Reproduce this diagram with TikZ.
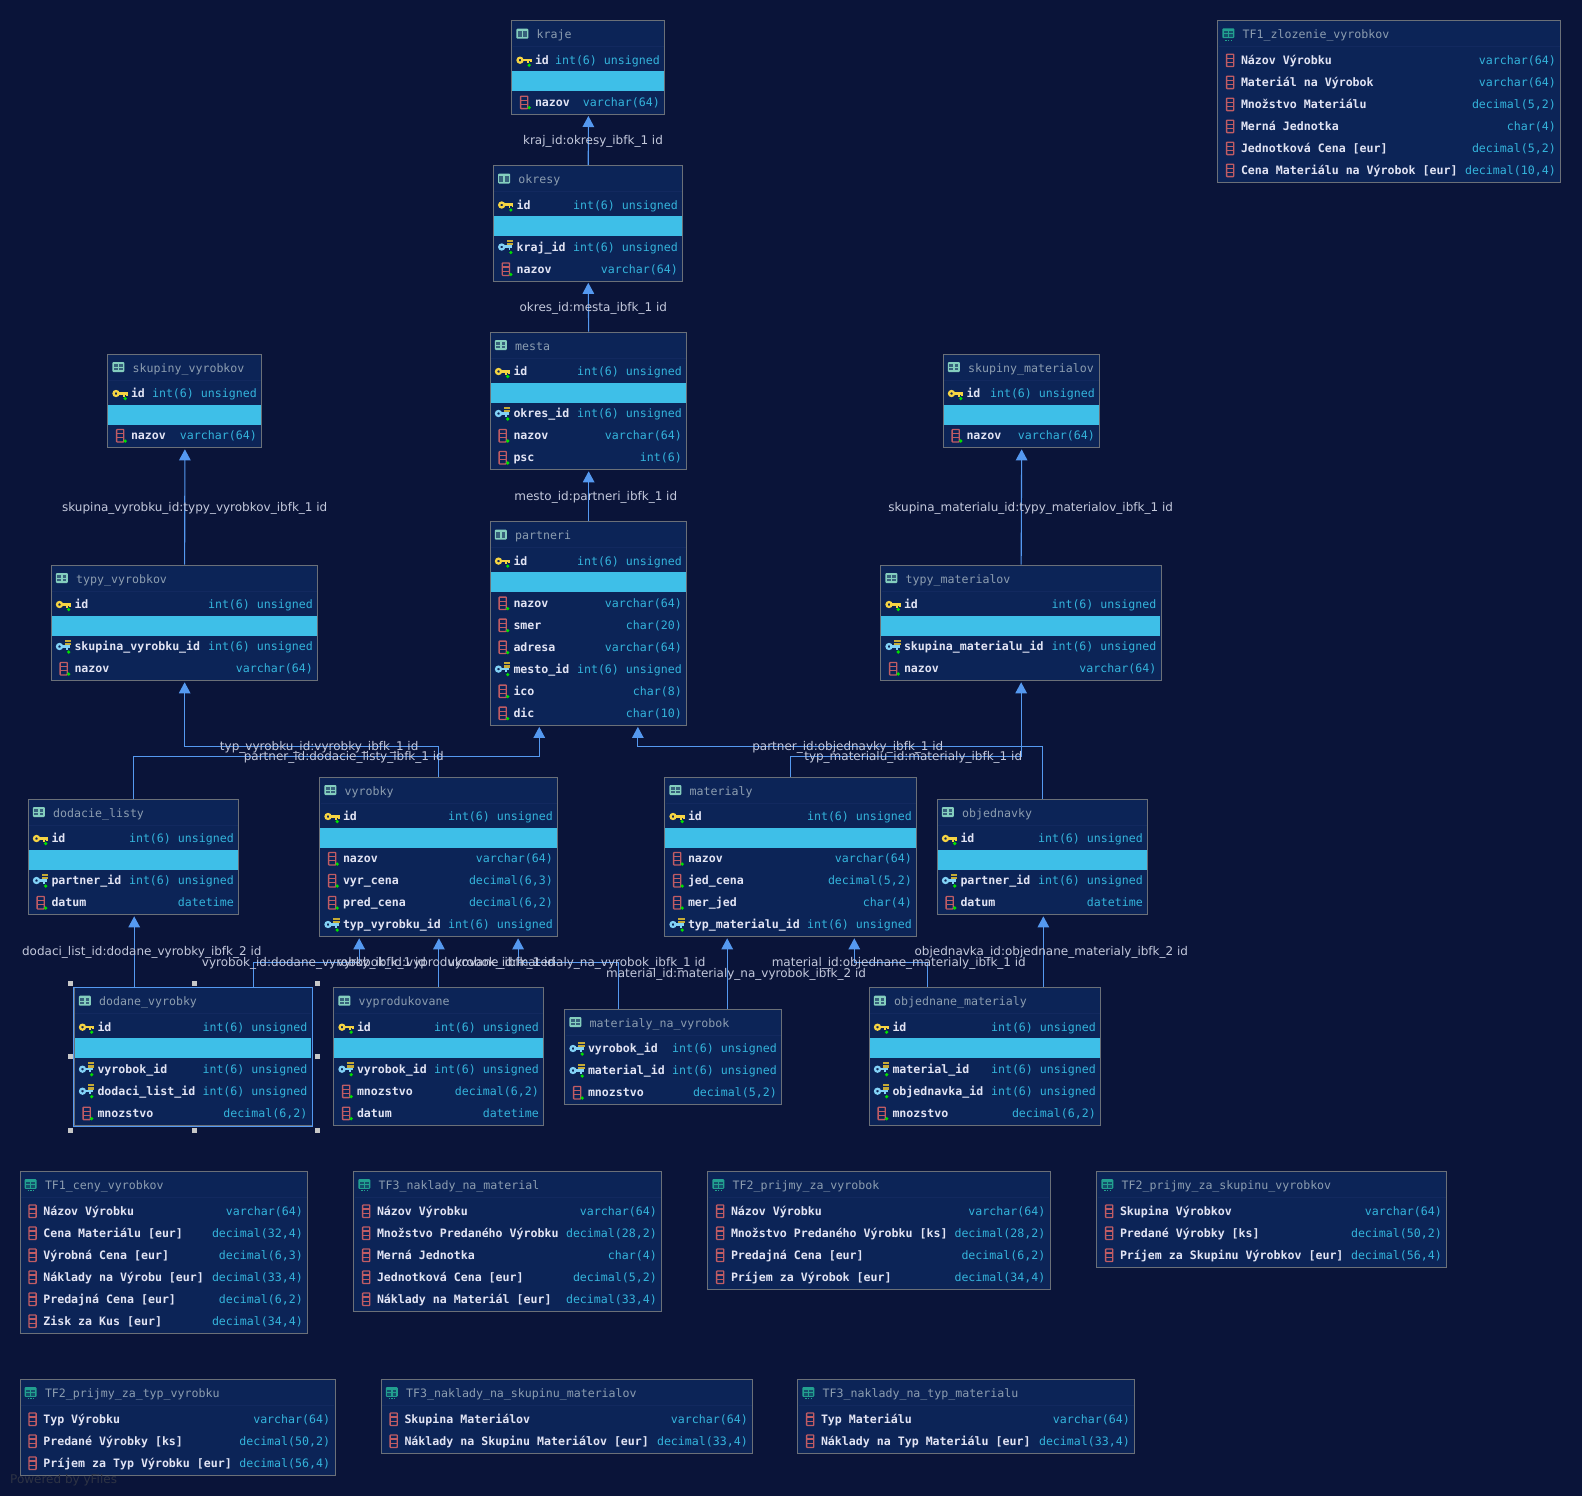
\documentclass[tikz,border=0pt]{standalone}
\usepackage{fontspec}
\setmainfont{DejaVu Sans}
\setmonofont{DejaVu Sans Mono}
\usetikzlibrary{arrows.meta}

\definecolor{bgcol}{HTML}{0A1439}
\definecolor{tblcol}{HTML}{0C2457}
\definecolor{hdrcol}{HTML}{12295F}
\definecolor{edgecol}{HTML}{6B7078}
\definecolor{bandcol}{HTML}{3EBFE8}
\definecolor{typecol}{HTML}{34B4DC}
\definecolor{namecol}{HTML}{E2E4F4}
\definecolor{titlecol}{HTML}{8C9DB0}
\definecolor{linkcol}{HTML}{5599F0}
\definecolor{labelcol}{HTML}{C4C9DC}
\definecolor{pkcol}{HTML}{F6D443}
\definecolor{fkcol}{HTML}{82D2F6}
\definecolor{colcol}{HTML}{C05C64}
\definecolor{dotcol}{HTML}{00E000}
\definecolor{gridcol}{HTML}{84CEBE}
\definecolor{viewcol}{HTML}{22A090}
\definecolor{yfilescol}{HTML}{2E3344}

\def\bandkey{band}
% [title icon]{name}{left}{right}{top}{height}{title}{rows}
\newcommand{\dbtable}[8][tblicon]{%
  \pgfmathsetmacro{\tblw}{#4-#3}
  \node[tbl, minimum width=\tblw pt, minimum height=#6pt] (#2) at (#3-.6,#5-.5) {};
  \draw[hdrline] (#3+.5,#5+26) -- (#4-1.5,#5+26);
  \pic at (#3+10.3,#5+13) {#1};
  \node[hdr] (#2-title) at (#3+24.5,#5+18) {#7};
  \pgfmathparse{#5+39.5}\xdef\rowy{\pgfmathresult}
  \foreach \k/\n/\t [count=\i] in {#8}{
    \ifx\k\bandkey
      \fill[bandcol] (#3,\rowy-11) rectangle (#4-1.2,\rowy+9);
      \pgfmathparse{\rowy+20}\xdef\rowy{\pgfmathresult}
    \else
      \pic at (#3+12.2,\rowy) {\k};
      \node[colname] (#2-n\i) at (#3+22.8,\rowy+4) {\n};
      \node[coltype] (#2-t\i) at (#4-5,\rowy+4) {\t};
      \pgfmathparse{\rowy+22}\xdef\rowy{\pgfmathresult}
    \fi
  }
}

\begin{document}
\begin{tikzpicture}[x=1pt, y=-1pt,
  tbl/.style={draw=edgecol, line width=1pt, fill=tblcol, anchor=north west, inner sep=0pt},
  hdrline/.style={hdrcol, line width=.8pt},
  hdr/.style={anchor=base west, inner sep=0pt, text=titlecol, font=\fontsize{11.6}{14}\selectfont\ttfamily},
  colname/.style={anchor=base west, inner sep=0pt, text=namecol, font=\fontsize{11.6}{14}\selectfont\ttfamily\bfseries},
  coltype/.style={anchor=base east, inner sep=0pt, text=typecol, font=\fontsize{11.6}{14}\selectfont\ttfamily},
  fk/.style={draw=linkcol, line width=1.1pt, shorten >=1pt, -{Triangle[length=11pt,width=11.5pt,fill=linkcol]}},
  lbl/.style={inner sep=0pt, text=labelcol, font=\fontsize{12}{14}\selectfont},
  handle/.style={draw=none, fill=black!22, minimum size=5pt, inner sep=0pt},
  pk/.pic={
    \draw[pkcol, line width=2.2pt] (-4.2,0) circle (2.5pt);
    \draw[pkcol, line width=2.6pt] (-1.5,-.3) -- (7.4,-.3);
    \draw[pkcol, line width=1.8pt] (3.6,0) -- (3.6,3) (6.5,0) -- (6.5,2);
    \fill[dotcol] (5,5) circle (1.8pt);
  },
  fkey/.pic={
    \draw[fkcol, line width=2.2pt] (-4.2,0) circle (2.5pt);
    \draw[fkcol, line width=2.6pt] (-1.5,-.3) -- (6.5,-.3);
    \draw[fkcol, line width=1.8pt] (3.6,0) -- (3.6,3);
    \fill[pkcol!80!black] (1,-7) rectangle (7.4,-1.6);
    \draw[tblcol, line width=.6pt] (1,-4.6) -- (7.4,-4.6);
    \fill[dotcol] (5,5.5) circle (1.8pt);
  },
  vcol/.pic={
    \draw[colcol, line width=1.3pt, rounded corners=.6pt] (-3.6,-6) rectangle (3.6,6.4);
    \draw[colcol, line width=1.2pt] (-3.6,-2) -- (3.6,-2) (-3.6,2.2) -- (3.6,2.2);
  },
  col/.pic={
    \pic {vcol};
    \fill[dotcol] (5,5.5) circle (1.8pt);
  },
  tblicon/.pic={
    \fill[gridcol, rounded corners=1pt] (-6,-5) rectangle (6,5);
    \foreach \cx in {-4.6,.7}
      \foreach \cy in {-2.6,.8}
        \fill[gridcol!35!tblcol] (\cx,\cy) rectangle ++(3.9,2.6);
  },
  viewicon/.pic={
    \fill[viewcol, rounded corners=1pt] (-6,-5.4) rectangle (6,4.4);
    \foreach \cx in {-4.6,.7}
      \foreach \cy in {-3,.4}
        \fill[viewcol!35!tblcol] (\cx,\cy) rectangle ++(3.9,2.6);
    \draw[viewcol, line width=1pt, dash pattern=on 1.3pt off 1.3pt] (-3,6.4) -- (3.5,6.4);
  }]
\useasboundingbox[fill=bgcol] (0,0) rectangle (1582,1496);

% base tables
\dbtable{kraje}{512}{665}{20.7}{93.8}{kraje}{pk/id/int(6) unsigned, band, col/nazov/varchar(64)}
\dbtable{okresy}{493.7}{683}{165.5}{115.8}{okresy}{pk/id/int(6) unsigned, band, fkey/kraj\_id/int(6) unsigned, col/nazov/varchar(64)}
\dbtable{mesta}{490.5}{687}{332}{137.8}{mesta}{pk/id/int(6) unsigned, band, fkey/okres\_id/int(6) unsigned, col/nazov/varchar(64), col/psc/int(6)}
\dbtable{partneri}{490.5}{687}{521.6}{203.8}{partneri}{pk/id/int(6) unsigned, band, col/nazov/varchar(64), col/smer/char(20), col/adresa/varchar(64), fkey/mesto\_id/int(6) unsigned, col/ico/char(8), col/dic/char(10)}
\dbtable{skupinyV}{108}{262}{354}{93.8}{skupiny\_vyrobkov}{pk/id/int(6) unsigned, band, col/nazov/varchar(64)}
\dbtable{skupinyM}{943.5}{1100}{354}{93.8}{skupiny\_materialov}{pk/id/int(6) unsigned, band, col/nazov/varchar(64)}
\dbtable{typyV}{51.5}{318}{565}{115.8}{typy\_vyrobkov}{pk/id/int(6) unsigned, band, fkey/skupina\_vyrobku\_id/int(6) unsigned, col/nazov/varchar(64)}
\dbtable{typyM}{881}{1161.5}{565}{115.8}{typy\_materialov}{pk/id/int(6) unsigned, band, fkey/skupina\_materialu\_id/int(6) unsigned, col/nazov/varchar(64)}
\dbtable{dodacie}{28.5}{239}{799}{115.8}{dodacie\_listy}{pk/id/int(6) unsigned, band, fkey/partner\_id/int(6) unsigned, col/datum/datetime}
\dbtable{vyrobky}{320}{558}{777}{159.8}{vyrobky}{pk/id/int(6) unsigned, band, col/nazov/varchar(64), col/vyr\_cena/{decimal(6,3)}, col/pred\_cena/{decimal(6,2)}, fkey/typ\_vyrobku\_id/int(6) unsigned}
\dbtable{materialy}{665}{917}{777}{159.8}{materialy}{pk/id/int(6) unsigned, band, col/nazov/varchar(64), col/jed\_cena/{decimal(5,2)}, col/mer\_jed/char(4), fkey/typ\_materialu\_id/int(6) unsigned}
\dbtable{objednavky}{937.5}{1148}{799}{115.8}{objednavky}{pk/id/int(6) unsigned, band, fkey/partner\_id/int(6) unsigned, col/datum/datetime}
\dbtable{dodane}{74.5}{312.5}{987.7}{137.8}{dodane\_vyrobky}{pk/id/int(6) unsigned, band, fkey/vyrobok\_id/int(6) unsigned, fkey/dodaci\_list\_id/int(6) unsigned, col/mnozstvo/{decimal(6,2)}}
\dbtable{vyprod}{334}{544}{987.7}{137.8}{vyprodukovane}{pk/id/int(6) unsigned, band, fkey/vyrobok\_id/int(6) unsigned, col/mnozstvo/{decimal(6,2)}, col/datum/datetime}
\dbtable{matnavyr}{565}{782}{1009}{95.8}{materialy\_na\_vyrobok}{fkey/vyrobok\_id/int(6) unsigned, fkey/material\_id/int(6) unsigned, col/mnozstvo/{decimal(5,2)}}
\dbtable{objmat}{869.5}{1101}{987.7}{137.8}{objednane\_materialy}{pk/id/int(6) unsigned, band, fkey/material\_id/int(6) unsigned, fkey/objednavka\_id/int(6) unsigned, col/mnozstvo/{decimal(6,2)}}

% views
\dbtable[viewicon]{tfzloz}{1218}{1561}{20.7}{161.8}{TF1\_zlozenie\_vyrobkov}{vcol/Názov Výrobku/varchar(64), vcol/Materiál na Výrobok/varchar(64), vcol/Množstvo Materiálu/{decimal(5,2)}, vcol/Merná Jednotka/char(4), vcol/Jednotková Cena [eur]/{decimal(5,2)}, vcol/Cena Materiálu na Výrobok [eur]/{decimal(10,4)}}
\dbtable[viewicon]{tfceny}{20.3}{308}{1171.5}{161.8}{TF1\_ceny\_vyrobkov}{vcol/Názov Výrobku/varchar(64), vcol/Cena Materiálu [eur]/{decimal(32,4)}, vcol/Výrobná Cena [eur]/{decimal(6,3)}, vcol/Náklady na Výrobu [eur]/{decimal(33,4)}, vcol/Predajná Cena [eur]/{decimal(6,2)}, vcol/Zisk za Kus [eur]/{decimal(34,4)}}
\dbtable[viewicon]{tfnakmat}{354}{662}{1171.5}{139.8}{TF3\_naklady\_na\_material}{vcol/Názov Výrobku/varchar(64), vcol/Množstvo Predaného Výrobku/{decimal(28,2)}, vcol/Merná Jednotka/char(4), vcol/Jednotková Cena [eur]/{decimal(5,2)}, vcol/Náklady na Materiál [eur]/{decimal(33,4)}}
\dbtable[viewicon]{tfprijvyr}{708}{1050.5}{1171.5}{117.8}{TF2\_prijmy\_za\_vyrobok}{vcol/Názov Výrobku/varchar(64), vcol/Množstvo Predaného Výrobku [ks]/{decimal(28,2)}, vcol/Predajná Cena [eur]/{decimal(6,2)}, vcol/Príjem za Výrobok [eur]/{decimal(34,4)}}
\dbtable[viewicon]{tfprijsk}{1097}{1447}{1171.5}{95.8}{TF2\_prijmy\_za\_skupinu\_vyrobkov}{vcol/Skupina Výrobkov/varchar(64), vcol/Predané Výrobky [ks]/{decimal(50,2)}, vcol/Príjem za Skupinu Výrobkov [eur]/{decimal(56,4)}}
\dbtable[viewicon]{tfprijtyp}{20.3}{335.3}{1379.5}{95.8}{TF2\_prijmy\_za\_typ\_vyrobku}{vcol/Typ Výrobku/varchar(64), vcol/Predané Výrobky [ks]/{decimal(50,2)}, vcol/Príjem za Typ Výrobku [eur]/{decimal(56,4)}}
\dbtable[viewicon]{tfnaksk}{381.5}{753}{1379.5}{73.8}{TF3\_naklady\_na\_skupinu\_materialov}{vcol/Skupina Materiálov/varchar(64), vcol/Náklady na Skupinu Materiálov [eur]/{decimal(33,4)}}
\dbtable[viewicon]{tfnaktyp}{798}{1135}{1379.5}{73.8}{TF3\_naklady\_na\_typ\_materialu}{vcol/Typ Materiálu/varchar(64), vcol/Náklady na Typ Materiálu [eur]/{decimal(33,4)}}

% rails and ports
\coordinate (railA) at (0,746.3);
\coordinate (railB) at (0,756.3);
\coordinate (railC) at (0,962.3);
\coordinate (partneriL) at ([xshift=-49.4pt]partneri.south);
\coordinate (partneriR) at ([xshift=49.2pt]partneri.south);
\coordinate (vyrobkyL) at ([xshift=-79.7pt]vyrobky.south);
\coordinate (vyrobkyR) at ([xshift=79.2pt]vyrobky.south);
\coordinate (materialyR) at ([xshift=63.4pt]materialy.south);
\coordinate (dodaneL) at ([xshift=-59.2pt]dodane.north);
\coordinate (dodaneR) at ([xshift=59.7pt]dodane.north);
\coordinate (matnavyrL) at ([xshift=-54.8pt]matnavyr.north);
\coordinate (matnavyrR) at ([xshift=53.8pt]matnavyr.north);
\coordinate (objmatL) at ([xshift=-57.6pt]objmat.north);
\coordinate (objmatR) at ([xshift=58.2pt]objmat.north);

% foreign keys
\draw[fk] (okresy.north) -- (kraje.south);
\draw[fk] (mesta.north) -- (okresy.south);
\draw[fk] (partneri.north) -- (mesta.south);
\draw[fk] (typyV.north) -- (skupinyV.south);
\draw[fk] (typyM.north) -- (skupinyM.south);
\draw[fk] (vyrobky.north) |- (railA -| typyV.south) -- (typyV.south);
\draw[fk] (dodacie.north) |- (railB -| partneriL) -- (partneriL);
\draw[fk] (objednavky.north) |- (railA -| partneriR) -- (partneriR);
\draw[fk] (materialy.north) |- (railB -| typyM.south) -- (typyM.south);
\draw[fk] (dodaneL) -- (dodaneL |- dodacie.south);
\draw[fk] (dodaneR) |- (railC -| vyrobkyL) -- (vyrobkyL);
\draw[fk] (vyprod.north) -- (vyrobky.south);
\draw[fk] (matnavyrL) |- (railC -| vyrobkyR) -- (vyrobkyR);
\draw[fk] (matnavyrR) -- (matnavyrR |- materialy.south);
\draw[fk] (objmatL) |- (railC -| materialyR) -- (materialyR);
\draw[fk] (objmatR) -- (objmatR |- objednavky.south);

% labels
\node[lbl] (l1) at (593,141.5) {kraj\_id:okresy\_ibfk\_1 id};
\node[lbl] (l2) at (593.3,308.7) {okres\_id:mesta\_ibfk\_1 id};
\node[lbl] (l3) at (595.8,497.4) {mesto\_id:partneri\_ibfk\_1 id};
\node[lbl] (l4) at (194.7,508.5) {skupina\_vyrobku\_id:typy\_vyrobkov\_ibfk\_1 id};
\node[lbl] (l5) at (1030.6,508.5) {skupina\_materialu\_id:typy\_materialov\_ibfk\_1 id};
\node[lbl] (l6) at (319.2,747.5) {typ\_vyrobku\_id:vyrobky\_ibfk\_1 id};
\node[lbl] (l7) at (343.8,757.5) {partner\_id:dodacie\_listy\_ibfk\_1 id};
\node[lbl] (l8) at (847.8,747.5) {partner\_id:objednavky\_ibfk\_1 id};
\node[lbl] (l9) at (913.2,757.5) {typ\_materialu\_id:materialy\_ibfk\_1 id};
\node[lbl] (l10) at (141.8,952.5) {dodaci\_list\_id:dodane\_vyrobky\_ibfk\_2 id};
\node[lbl] (l11) at (314,963.5) {vyrobok\_id:dodane\_vyrobky\_ibfk\_1 id};
\node[lbl] (l12) at (446,963.5) {vyrobok\_id:vyprodukovane\_ibfk\_1 id};
\node[lbl] (l13) at (576.6,963.5) {vyrobok\_id:materialy\_na\_vyrobok\_ibfk\_1 id};
\node[lbl] (l14) at (736.1,974) {material\_id:materialy\_na\_vyrobok\_ibfk\_2 id};
\node[lbl] (l15) at (898.8,963.5) {material\_id:objednane\_materialy\_ibfk\_1 id};
\node[lbl] (l16) at (1051.3,952.5) {objednavka\_id:objednane\_materialy\_ibfk\_2 id};

% selected table
\draw[linkcol, line width=1pt] (dodane.north west) rectangle (dodane.south east);
\foreach \hx in {70.4,194.3,317.9}
  \foreach \hy in {983.3,1130}
    \node[handle] (h\hx-\hy) at (\hx,\hy) {};
\node[handle] (hleft) at (70.4,1056.7) {};
\node[handle] (hright) at (317.9,1056.7) {};

\node[anchor=west, inner sep=0pt, text=yfilescol, font=\fontsize{12}{14}\selectfont] (yfiles) at (10,1480) {Powered by yFiles};
\end{tikzpicture}
\end{document}
